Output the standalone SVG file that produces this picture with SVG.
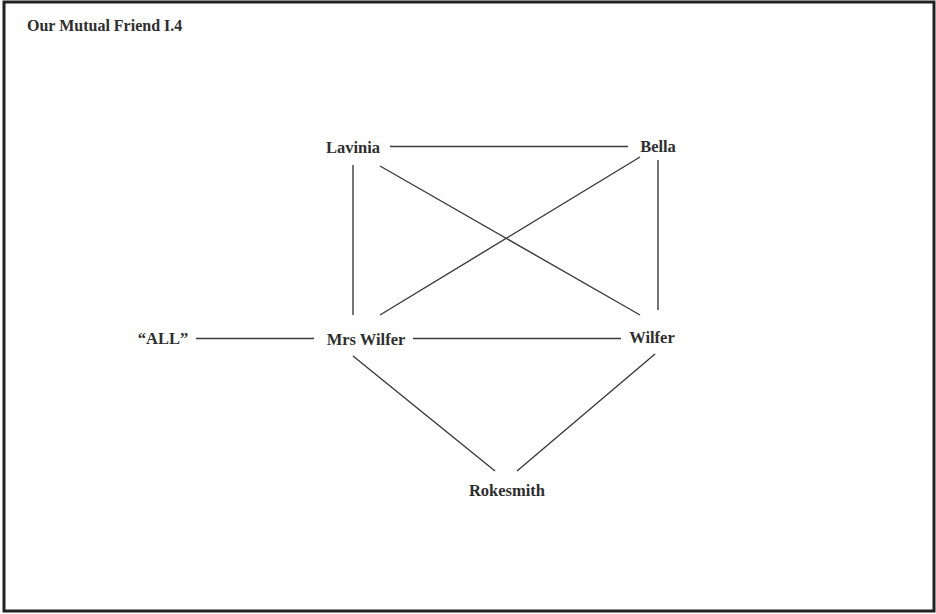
<svg xmlns="http://www.w3.org/2000/svg" width="936" height="614" viewBox="0 0 936 614">
<style>
.t{font-family:"Liberation Serif","Times New Roman",serif;font-weight:bold;font-size:16.5px;fill:#2e2e2e;text-anchor:middle}
.ttl{font-family:"Liberation Serif","Times New Roman",serif;font-weight:bold;font-size:16px;fill:#2e2e2e}
.e{stroke:#3a3a3a;stroke-width:1.4;fill:none}
</style>
<rect x="0" y="0" width="936" height="614" fill="#ffffff"/>
<rect x="4" y="2" width="930" height="609" fill="none" stroke="#222" stroke-width="3"/>
<text class="ttl" x="27" y="31">Our Mutual Friend I.4</text>
<g id="connectors">
<line class="e" x1="390" y1="146.5" x2="628" y2="146.5"/>
<line class="e" x1="353" y1="165" x2="353" y2="315"/>
<line class="e" x1="380" y1="166" x2="640" y2="315"/>
<line class="e" x1="640" y1="157" x2="380" y2="315"/>
<line class="e" x1="658" y1="160" x2="658" y2="310"/>
<line class="e" x1="196" y1="338.5" x2="314" y2="338.5"/>
<line class="e" x1="413" y1="338.5" x2="621" y2="338.5"/>
<line class="e" x1="353" y1="356" x2="495" y2="471"/>
<line class="e" x1="655" y1="354" x2="517" y2="471"/>
</g>
<g id="lavinia"><text class="t" x="353" y="152.5">Lavinia</text></g>
<g id="bella"><text class="t" x="658" y="151.5">Bella</text></g>
<g id="all"><text class="t" x="163" y="343.5">“ALL”</text></g>
<g id="mrs-wilfer"><text class="t" x="366" y="344.5">Mrs Wilfer</text></g>
<g id="wilfer"><text class="t" x="652" y="342.5">Wilfer</text></g>
<g id="rokesmith"><text class="t" x="507" y="495.5">Rokesmith</text></g>
</svg>
